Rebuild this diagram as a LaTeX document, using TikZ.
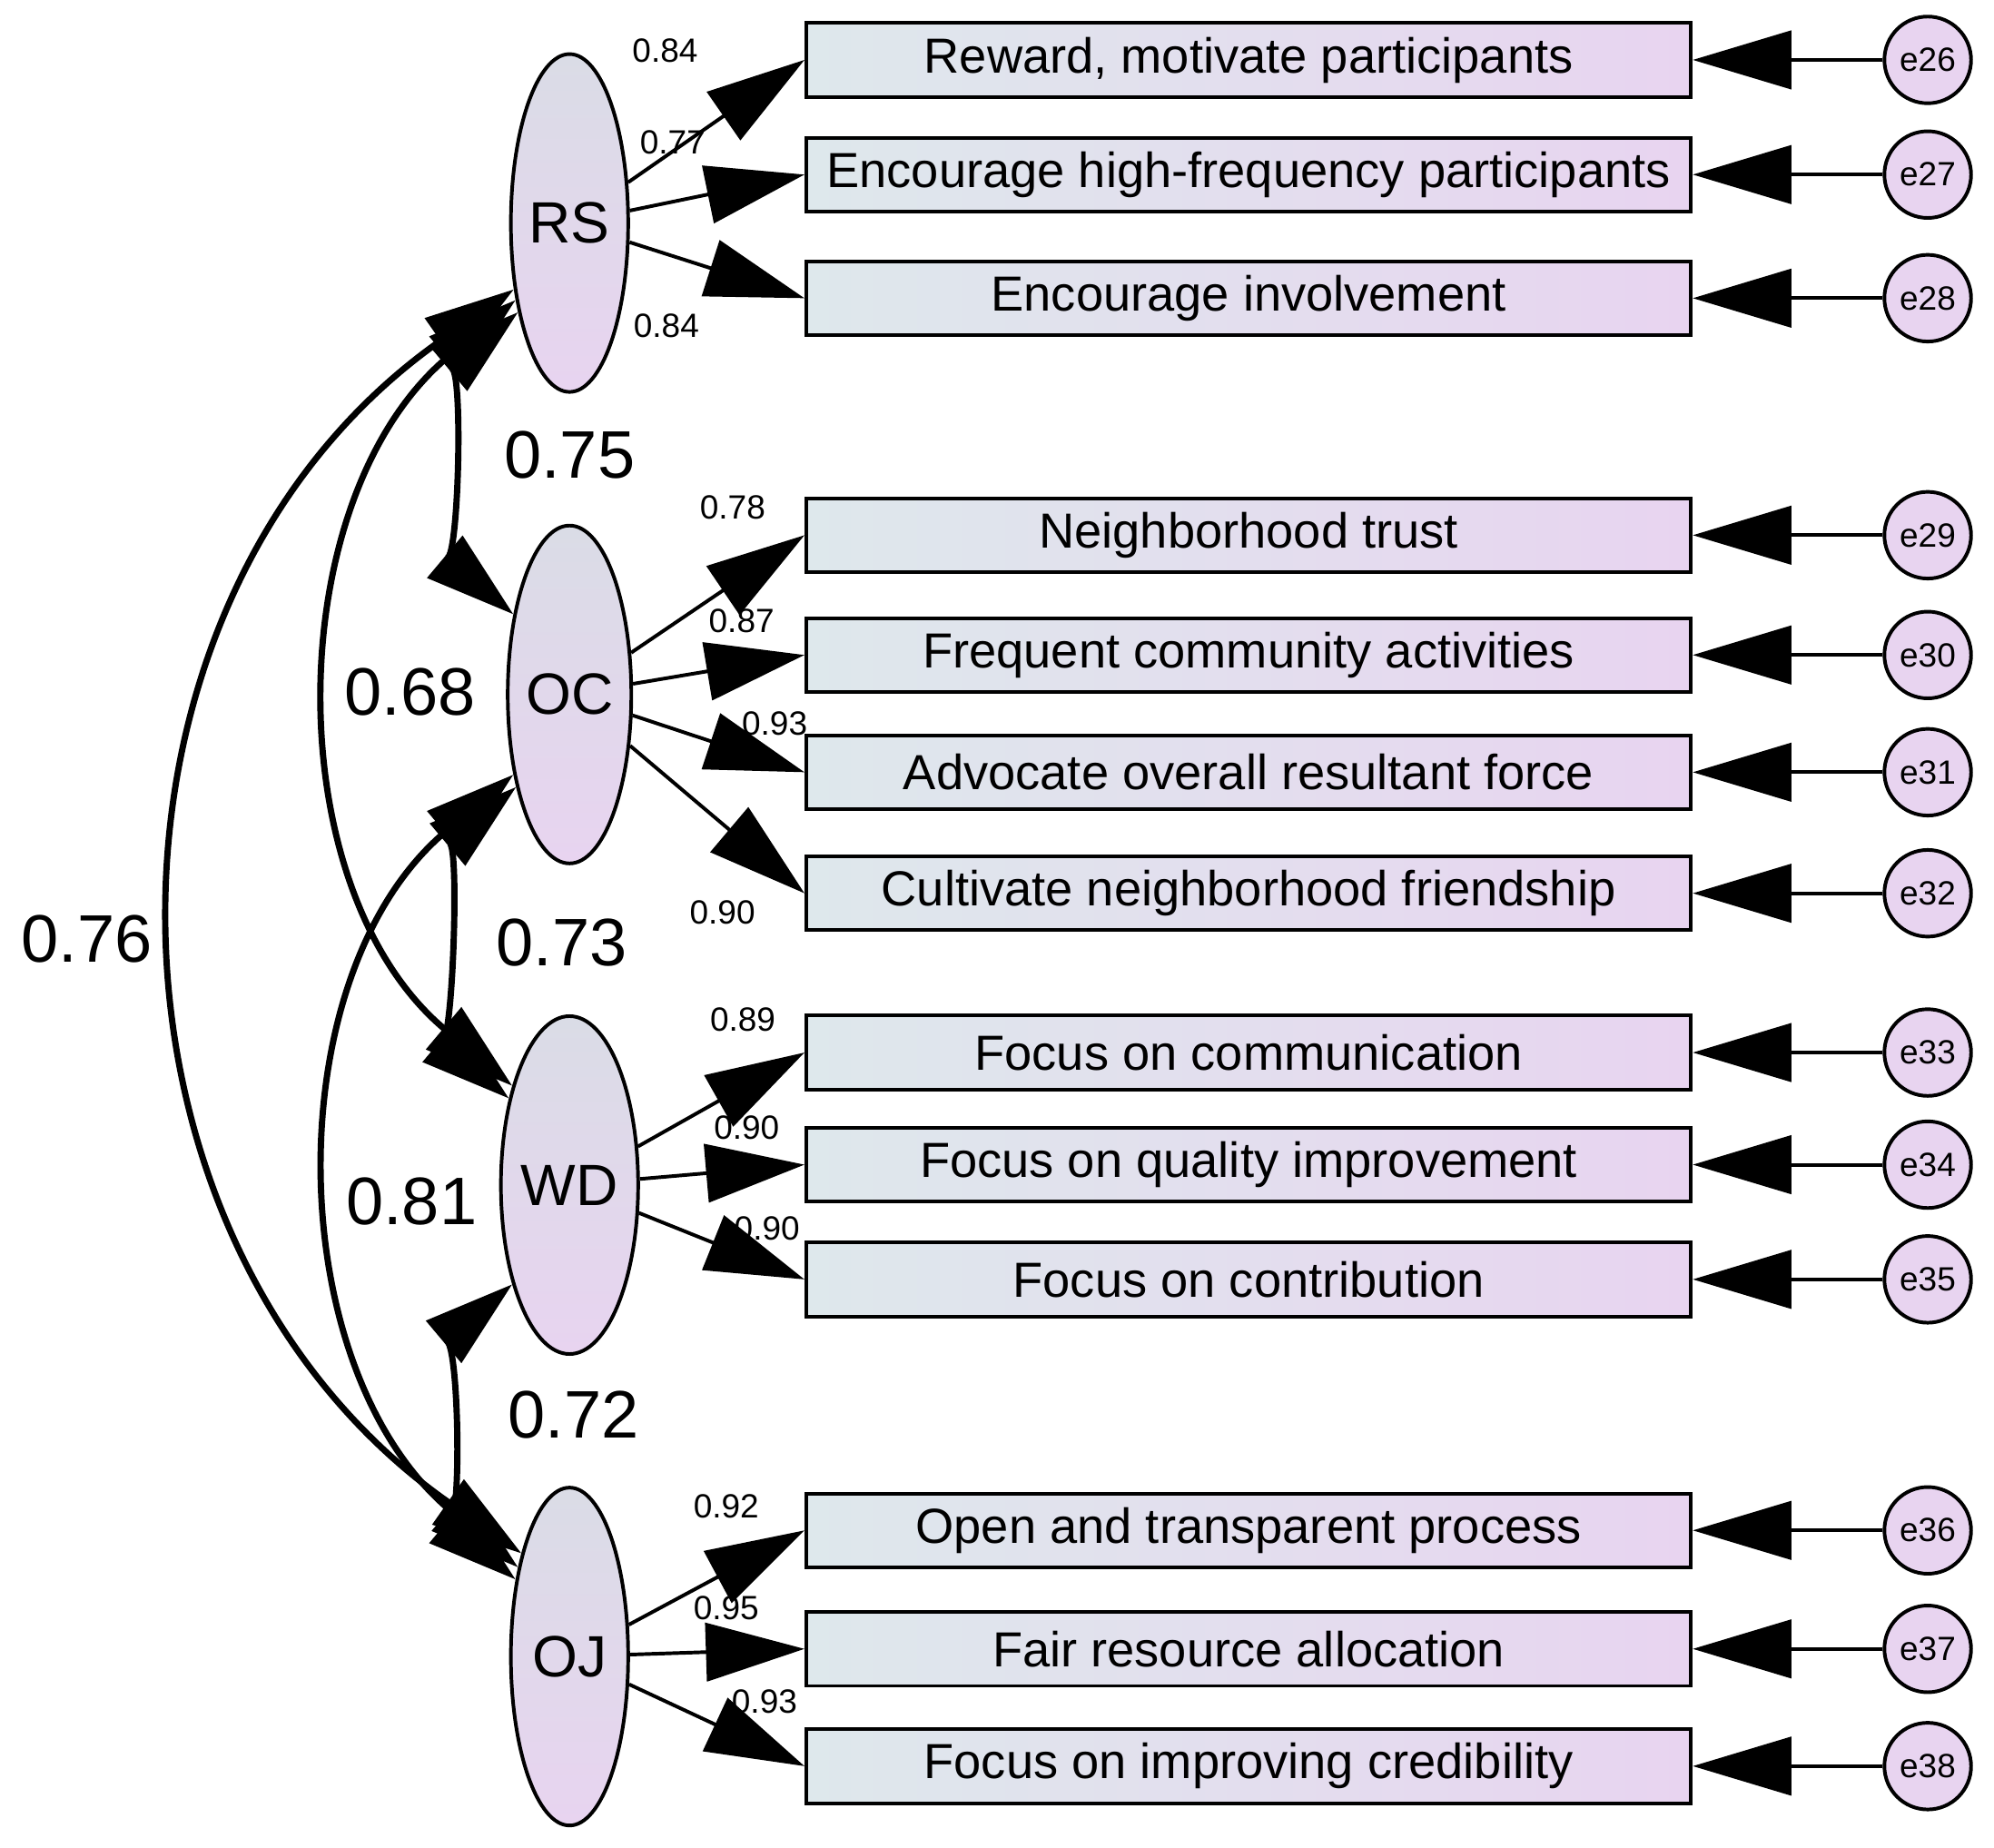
\documentclass[tikz,border=0pt]{standalone}
\usepackage{fontspec}
\setmainfont{Liberation Sans}
\usepackage{tikz}
\usetikzlibrary{arrows.meta, shapes.geometric}
\definecolor{lav}{RGB}{232,212,240}
\definecolor{pale}{RGB}{222,232,236}
\definecolor{greytop}{RGB}{218,220,230}
\tikzset{item/.style={draw, thick, left color=pale, right color=lav, minimum width=6.94cm, minimum height=0.58cm, inner sep=0pt, font=\fontsize{11}{11}\selectfont}}
\tikzset{factor/.style={ellipse, draw, thick, top color=greytop, bottom color=lav, minimum width=0.92cm, minimum height=2.65cm, inner sep=0pt, font=\fontsize{13}{13}\selectfont}}
\tikzset{err/.style={circle, draw, thick, fill=lav, minimum size=0.68cm, inner sep=0pt, font=\fontsize{7.5}{7.5}\selectfont}}
\tikzset{path/.style={thick, -{Triangle[length=22pt,width=13pt]}}}
\tikzset{cov/.style={line width=1.4pt, {Triangle[length=20pt,width=12pt]}-{Triangle[length=20pt,width=12pt]}}}
\tikzset{load/.style={font=\fontsize{7.5}{7.5}\selectfont}}
\tikzset{corr/.style={font=\fontsize{15}{15}\selectfont}}
\begin{document}
\begin{tikzpicture}[x=0.01cm, y=-0.01cm]
\useasboundingbox (0,0) rectangle (1565,1450);
% latent factors
\node[factor] (rs) at (447,175) {RS};
\node[factor] (oc) at (447,545) {OC};
\node[factor] (wd) at (447,930) {WD};
\node[factor] (oj) at (447,1300) {OJ};
% observed items and errors
\foreach \n/\y/\t in {26/47/{Reward, motivate participants}, 27/137/{Encourage high-frequency participants}, 28/234/{Encourage involvement},
    29/420/{Neighborhood trust}, 30/514/{Frequent community activities}, 31/606/{Advocate overall resultant force}, 32/701/{Cultivate neighborhood friendship},
    33/826/{Focus on communication}, 34/914/{Focus on quality improvement}, 35/1004/{Focus on contribution},
    36/1201/{Open and transparent process}, 37/1294/{Fair resource allocation}, 38/1386/{Focus on improving credibility}} {
    \node[item] (b\n) at (980,\y) {\t};
    \node[err] (e\n) at (1513,\y) {e\n};
    \draw[path] (e\n) -- (b\n.east);
}
% loadings
\foreach \f/\n in {rs/26, rs/27, rs/28, oc/29, oc/30, oc/31, oc/32, wd/33, wd/34, wd/35, oj/36, oj/37, oj/38} {
    \draw[path] (\f) -- (b\n.west);
}
\foreach \v/\x/\y in {0.84/522/40, 0.77/528/112, 0.84/523/256, 0.78/575/398, 0.87/582/487, 0.93/608/568, 0.90/567/716,
    0.89/583/800, 0.90/586/885, 0.90/602/964, 0.92/570/1182, 0.95/570/1262, 0.93/600/1335} {
    \node[load] at (\x,\y) {\v};
}
% covariances
\draw[cov] (rs.240) to[out=220, in=140, looseness=0.6] (oc.125);
\draw[cov] (oc.240) to[out=220, in=140, looseness=0.6] (wd.125);
\draw[cov] (wd.240) to[out=220, in=140, looseness=0.6] (oj.125);
\draw[cov] (rs.235) to[out=220, in=140, looseness=1] (wd.120);
\draw[cov] (oc.235) to[out=220, in=140, looseness=1] (oj.120);
\draw[cov] (rs.230) to[out=215, in=145, looseness=1.1] (oj.115);
\node[corr] at (447,357) {0.75};
\node[corr] at (441,740) {0.73};
\node[corr] at (450,1110) {0.72};
\node[corr] at (322,543) {0.68};
\node[corr] at (323,943) {0.81};
\node[corr] at (68,737) {0.76};
\end{tikzpicture}
\end{document}
